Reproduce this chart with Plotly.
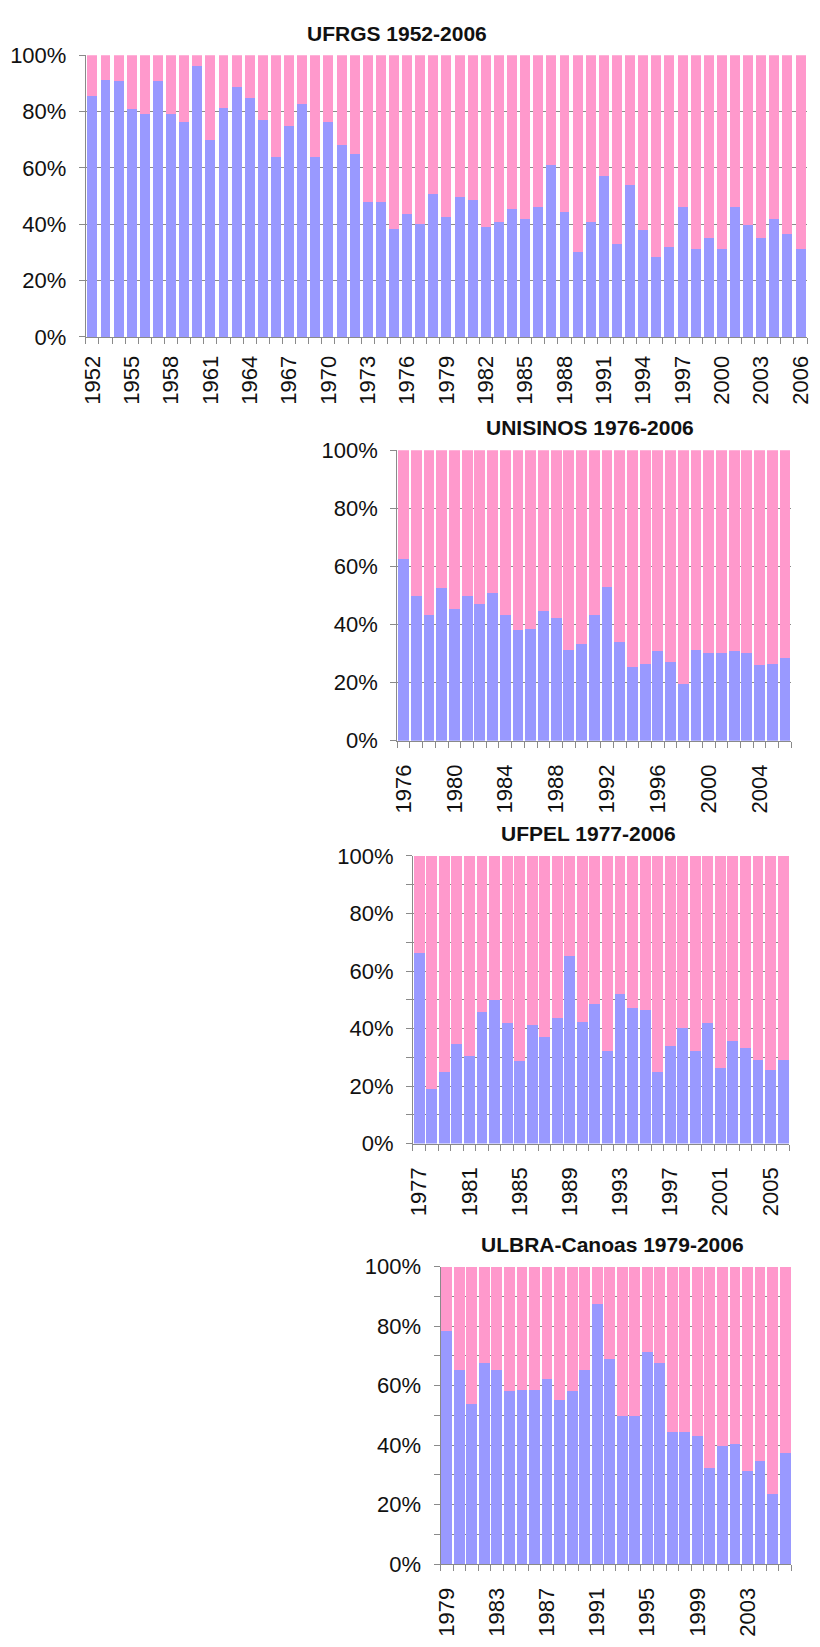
import plotly.graph_objects as go

# ---------------- data (share of blue series, %) ----------------
ufrgs_years = list(range(1952, 2007))
ufrgs_blue = [85.5, 91.4, 90.8, 80.8, 79.0, 90.8, 79.0, 76.5, 96.3, 70.0,
              81.2, 88.6, 84.8, 77.2, 64.0, 74.8, 82.6, 64.0, 76.5, 68.2,
              65.0, 47.8, 47.8, 38.2, 43.7, 40.1, 50.9, 42.7, 49.7, 48.6,
              38.9, 40.9, 45.6, 41.8, 46.2, 61.1, 44.4, 30.2, 40.9, 57.0,
              33.0, 54.0, 37.9, 28.3, 31.8, 46.2, 31.2, 35.0, 31.2, 46.2,
              39.6, 35.0, 41.8, 36.5, 31.2]
ufrgs_ticks = list(range(1952, 2007, 3))

unisinos_years = list(range(1976, 2007))
unisinos_blue = [62.7, 49.9, 43.4, 52.5, 45.2, 49.9, 47.0, 50.7, 43.4, 38.1,
                 38.5, 44.7, 42.1, 31.4, 33.2, 43.4, 53.0, 33.9, 25.4, 26.4,
                 30.8, 27.2, 19.4, 31.4, 30.2, 30.2, 30.8, 30.2, 26.0, 26.4,
                 28.4]
unisinos_ticks = list(range(1976, 2007, 4))

ufpel_years = list(range(1977, 2007))
ufpel_blue = [66.3, 18.9, 24.9, 34.5, 30.3, 45.9, 49.8, 41.8, 28.7, 41.2,
              37.1, 43.7, 65.2, 42.4, 48.4, 32.1, 51.9, 47.0, 46.6, 24.9,
              34.0, 40.1, 32.1, 41.8, 26.3, 35.8, 33.4, 29.2, 25.5, 29.2]
ufpel_ticks = list(range(1977, 2007, 4))

ulbra_years = list(range(1979, 2007))
ulbra_blue = [78.3, 65.3, 53.9, 67.6, 65.3, 58.1, 58.6, 58.6, 62.3, 55.2,
              58.1, 65.3, 87.3, 69.1, 49.7, 49.7, 71.3, 67.6, 44.4, 44.4,
              43.2, 32.4, 39.6, 40.3, 31.3, 34.7, 23.5, 37.2]
ulbra_ticks = list(range(1979, 2007, 4))

titles = ["UFRGS 1952-2006", "UNISINOS 1976-2006", "UFPEL 1977-2006", "ULBRA-Canoas 1979-2006"]

# ---------------- styling / layout ----------------
W, H = 820, 1647
BLUE = "#9999ff"
PINK = "#ff99cc"
GRID = "#8a8a8a"
FONT = "Liberation Sans, Arial, sans-serif"
FS = 22
TFS = 21

# pixel boxes of plot areas: (left, right, top, bottom), title center (x, y), bar width, minor y grid
panels = [
    dict(years=ufrgs_years, blue=ufrgs_blue, ticks=ufrgs_ticks, box=(81, 813, 44, 330), tpos=(397, 22), bw=0.76, minor=False),
    dict(years=unisinos_years, blue=unisinos_blue, ticks=unisinos_ticks, box=(397, 797, 445, 740), tpos=(593, 422), bw=0.86, minor=False),
    dict(years=ufpel_years, blue=ufpel_blue, ticks=ufpel_ticks, box=(413, 795, 857, 1149), tpos=(591, 834), bw=0.87, minor=True),
    dict(years=ulbra_years, blue=ulbra_blue, ticks=ulbra_ticks, box=(441, 797, 1274, 1576), tpos=(615, 1251), bw=0.87, minor=True),
]

fig = go.Figure()
layout = dict(
    width=W, height=H, margin=dict(l=0, r=0, t=0, b=0),
    paper_bgcolor="white", plot_bgcolor="white",
    barmode="stack", showlegend=False,
    font=dict(family=FONT, size=FS, color="#111111"),
    annotations=[],
)

for i, p in enumerate(panels):
    n = "" if i == 0 else str(i + 1)
    xa, ya = "x" + n, "y" + n
    pink = [round(100 - v, 1) for v in p["blue"]]
    fig.add_trace(go.Bar(x=p["years"], y=[v / 100 for v in p["blue"]], marker=dict(color=BLUE, line=dict(width=0)),
                         width=p["bw"], xaxis=xa, yaxis=ya, hoverinfo="skip"))
    fig.add_trace(go.Bar(x=p["years"], y=[v / 100 for v in pink], marker=dict(color=PINK, line=dict(width=0)),
                         width=p["bw"], xaxis=xa, yaxis=ya, hoverinfo="skip"))
    l, r, t, b = p["box"]
    yrs = p["years"]
    layout["xaxis" + n] = dict(
        domain=[l / W, r / W], anchor=ya, range=[yrs[0] - 0.5, yrs[-1] + 0.5],
        tickmode="array", tickvals=p["ticks"], ticktext=[str(v) for v in p["ticks"]],
        tickangle=-90, ticks="", ticklabelstandoff=9 if i == 0 else 14,
        showline=True, linecolor=GRID, linewidth=1, showgrid=False, zeroline=False,
        tickfont=dict(family=FONT, size=FS, color="#111111"),
        minor=dict(ticks="outside", ticklen=6, tickcolor=GRID, tickwidth=1,
                   tickmode="linear", tick0=yrs[0] - 0.5, dtick=1, showgrid=False),
        fixedrange=True,
    )
    ydict = dict(
        domain=[1 - b / H, 1 - t / H], anchor=xa, range=[0, 1],
        tickmode="linear", tick0=0, dtick=0.2, tickformat=".0%",
        ticks="outside", ticklen=6, tickcolor=GRID, tickwidth=1, ticklabelstandoff=8,
        showline=True, linecolor=GRID, linewidth=1,
        showgrid=True, gridcolor=GRID, gridwidth=1, zeroline=False,
        tickfont=dict(family=FONT, size=FS, color="#111111"),
        fixedrange=True,
    )
    if p["minor"]:
        ydict["minor"] = dict(ticks="outside", ticklen=6, tickcolor=GRID, tickwidth=1,
                              tickmode="linear", tick0=0, dtick=0.1,
                              showgrid=True, gridcolor=GRID, gridwidth=1)
    layout["yaxis" + n] = ydict
    tx, ty = p["tpos"]
    layout["annotations"].append(dict(
        text="<b>%s</b>" % titles[i], x=tx / W, y=1 - ty / H, xref="paper", yref="paper",
        xanchor="center", yanchor="middle", showarrow=False,
        font=dict(family=FONT, size=TFS, color="#111111"),
    ))

fig.update_layout(**layout)
fig.write_html(
    "out.html",
    config={"displayModeBar": False},
    post_script="document.body.style.margin='0';document.body.style.padding='0';"
                "document.documentElement.style.overflow='hidden';",
)
